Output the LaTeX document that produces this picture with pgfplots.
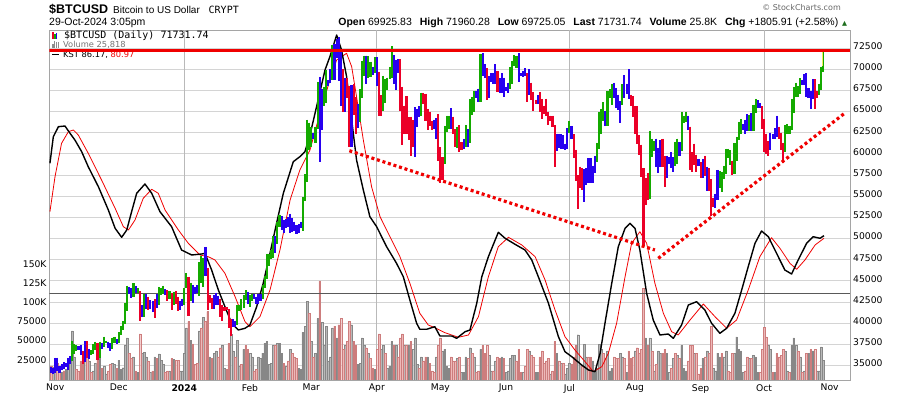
\documentclass[border=0pt]{standalone}
\usepackage{fontspec}
\setmainfont{DejaVu Sans}
\newfontfamily\arial{Liberation Sans}
\newfontfamily\mono{DejaVu Sans Mono}
\usepackage{pgfplots}
\usepackage{pgfplotstable}
\pgfplotsset{compat=1.18}
\definecolor{pgreen}{RGB}{20,170,0}
\definecolor{pred}{RGB}{235,0,40}
\definecolor{pblue}{RGB}{40,0,240}
\definecolor{pyellow}{RGB}{240,240,90}
\definecolor{vgray}{RGB}{185,185,185}
\definecolor{vgrayd}{RGB}{135,135,135}
\definecolor{vpink}{RGB}{238,185,185}
\definecolor{vpinkd}{RGB}{205,125,125}
\definecolor{gridc}{RGB}{212,212,212}
\definecolor{qgridc}{RGB}{185,185,185}
\definecolor{framec}{RGB}{165,165,165}
\definecolor{trend}{RGB}{240,0,0}
\definecolor{upgreen}{RGB}{30,110,30}
\newcommand\tickfont{\fontsize{9.2}{11}\selectfont}

% d = days from 1 Jan 2024; lo/hi in thousands of USD; c: 0 green,1 red,2 blue; v volume in thousands; w: 0 up (gray),1 down (pink)
\pgfplotstableread{
d lo hi c v w
-63 34.1 34.8 2 18 1
-62 34.0 34.7 2 17 0
-61 34.1 35.9 2 25 0
-60 34.3 35.9 2 22 1
-59 34.1 35.0 2 18 1
-58 34.5 35.2 2 10 0
-57 34.6 35.4 2 12 1
-56 34.8 35.3 2 14 0
-55 34.5 35.9 2 20 0
-54 35.2 36.1 2 22 0
-53 35.5 37.9 0 64 0
-52 36.4 37.5 0 30 0
-51 36.7 37.4 0 14 1
-50 36.8 37.3 2 12 1
-49 36.3 37.4 2 25 1
-48 35.2 36.7 1 30 1
-47 35.4 37.9 2 32 0
-46 35.9 37.9 1 33 1
-45 35.8 36.9 2 25 0
-44 36.2 36.8 0 10 1
-43 36.4 37.5 0 12 0
-42 36.8 37.8 0 22 0
-41 35.7 37.6 1 35 1
-40 35.9 37.8 0 28 0
-39 37.0 37.6 2 15 1
-38 37.2 38.4 0 18 0
-37 37.6 37.9 0 8 0
-36 37.1 37.8 2 12 1
-35 36.7 37.6 2 20 1
-34 36.9 38.3 0 22 0
-33 37.6 38.4 0 20 0
-32 37.5 38.1 2 15 1
-31 37.6 38.9 0 26 0
-30 38.6 39.7 0 14 0
-29 39.2 40.2 0 16 0
-28 39.9 42.4 0 45 0
-27 41.4 44.4 0 55 0
-26 43.4 44.3 2 35 1
-25 43.0 44.1 2 28 1
-24 43.1 44.7 0 30 0
-23 43.6 44.4 2 12 1
-22 43.6 44.1 0 10 0
-21 40.2 43.8 1 60 1
-20 40.7 42.1 2 35 0
-19 40.7 43.4 0 36 0
-18 41.7 43.4 2 30 0
-17 41.6 43.1 1 25 1
-16 41.7 42.7 2 10 0
-15 41.3 42.6 2 12 1
-14 40.6 42.8 1 30 0
-13 41.8 43.4 2 28 1
-12 42.2 44.3 0 34 0
-11 43.3 44.2 0 26 0
-10 43.4 44.4 0 20 0
-9 43.3 44.0 2 10 1
-8 42.6 43.9 1 12 1
-7 42.8 43.8 0 12 0
-6 41.6 43.6 1 28 1
-5 42.1 43.7 0 27 0
-4 42.3 43.8 1 26 1
-3 41.4 43.1 1 26 1
-2 41.6 42.6 2 12 0
-1 42.0 42.9 2 12 0
0 42.2 44.2 0 35 0
1 44.2 45.9 0 68 0
2 40.8 45.5 1 76 1
3 42.6 44.8 0 52 0
4 42.4 44.5 2 47 1
5 43.4 44.3 2 20 1
6 43.6 44.5 2 22 1
7 43.2 47.2 0 64 0
8 44.8 47.9 0 68 1
9 44.3 47.7 0 82 0
10 45.6 49.0 2 76 1
11 41.5 46.5 1 89 1
12 42.4 43.3 1 30 0
13 41.7 43.0 1 28 1
14 41.7 43.3 2 35 0
15 42.1 43.6 2 38 0
16 42.2 43.2 2 30 1
17 40.7 42.9 1 42 1
18 40.3 42.2 1 45 0
19 41.4 41.9 1 15 0
20 41.5 41.9 1 14 1
21 39.4 41.7 1 48 1
22 38.5 40.5 1 60 0
23 39.5 40.5 2 38 0
24 39.5 40.3 2 30 1
25 39.8 42.2 0 52 0
26 41.4 42.2 0 18 0
27 41.6 42.8 0 20 1
28 41.8 43.3 0 40 0
29 42.7 43.9 0 45 1
30 42.3 43.7 2 40 1
31 41.9 43.3 0 35 0
32 42.6 43.5 0 30 0
33 42.9 43.4 2 12 1
34 42.3 43.1 2 14 1
35 42.3 43.5 2 30 0
36 42.6 43.4 2 28 0
37 42.8 44.5 0 35 0
38 44.1 45.6 0 48 0
39 45.2 48.2 0 50 0
40 46.8 48.2 0 20 0
41 47.6 48.6 0 22 0
42 47.7 50.3 0 45 0
43 48.3 50.3 2 45 1
44 49.3 52.0 0 48 0
45 51.3 52.8 0 48 0
46 51.0 52.6 2 35 0
47 50.6 52.2 2 22 1
48 51.2 52.3 2 18 0
49 51.4 52.5 2 25 1
50 50.6 52.9 2 40 0
51 50.8 52.4 2 35 1
52 50.9 52.0 2 30 1
53 50.5 51.6 2 28 1
54 50.6 51.7 2 15 0
55 51.2 52.0 2 14 0
56 50.9 54.9 0 62 0
57 54.4 57.6 0 70 0
58 56.7 64.0 0 102 0
59 60.4 63.7 0 87 1
60 60.8 63.2 0 50 0
61 61.7 62.5 2 30 1
62 61.3 63.2 0 35 0
63 62.9 68.5 0 80 0
64 59.0 69.1 2 129 1
65 62.8 67.6 2 75 0
66 65.6 67.9 0 45 0
67 66.0 69.9 0 70 0
68 68.0 68.7 2 25 0
69 68.4 70.0 2 30 0
70 68.7 72.8 0 68 0
71 68.7 73.0 2 70 1
72 71.3 73.6 2 55 0
73 68.6 73.8 2 72 1
74 65.6 72.3 2 80 1
75 64.9 70.0 1 40 1
76 65.0 68.9 2 45 0
77 66.6 68.9 1 50 1
78 60.8 68.0 1 76 1
79 60.8 68.1 2 72 0
80 64.6 68.2 1 50 1
81 62.3 66.7 1 45 1
82 63.1 65.9 2 20 0
83 63.8 67.6 0 22 0
84 66.6 71.0 0 55 0
85 69.2 71.6 0 45 0
86 68.3 71.6 2 42 1
87 68.9 71.5 0 35 0
88 69.1 70.9 0 28 1
89 69.3 70.3 2 15 1
90 69.6 71.4 0 14 0
91 68.0 71.4 2 40 1
92 64.5 69.7 1 60 1
93 64.5 66.9 1 40 0
94 65.1 69.2 0 45 0
95 66.0 68.8 0 35 1
96 67.5 69.0 0 15 0
97 68.8 70.3 0 18 0
98 69.0 72.7 0 50 0
99 68.3 71.7 2 45 1
100 67.5 71.1 2 45 0
101 69.6 71.2 2 30 1
102 65.1 71.2 1 55 1
103 61.0 67.9 1 60 1
104 62.3 65.7 1 45 0
105 62.3 66.8 1 45 1
106 61.6 64.3 1 45 0
107 59.8 64.4 1 50 1
108 60.8 64.0 1 40 0
109 59.6 65.5 2 55 0
110 63.2 65.3 2 20 0
111 64.3 65.6 2 15 1
112 64.5 67.2 0 30 0
113 65.9 67.2 1 25 1
114 63.9 67.1 1 30 1
115 62.8 65.3 1 30 0
116 63.3 65.0 1 22 1
117 62.8 63.9 1 12 1
118 62.9 64.0 2 10 1
119 61.8 64.2 2 30 0
120 59.2 64.7 1 45 1
121 56.6 60.8 1 55 1
122 56.9 59.6 1 37 0
123 58.8 63.3 0 40 0
124 62.6 64.5 0 18 0
125 62.9 64.5 0 15 0
126 62.9 65.4 2 30 1
127 62.3 64.4 1 25 1
128 60.8 62.9 1 25 1
129 60.7 63.2 0 28 0
130 60.2 63.4 1 30 1
131 60.5 61.4 1 10 0
132 60.6 61.8 2 10 0
133 60.8 63.4 0 30 0
134 60.8 62.9 2 28 1
135 61.3 66.5 0 42 0
136 64.6 66.7 0 35 1
137 65.0 67.4 0 30 0
138 66.6 67.4 2 10 1
139 66.1 67.7 2 12 1
140 66.1 71.8 0 40 0
141 69.2 71.9 2 45 1
142 68.9 70.6 2 35 1
143 66.3 70.1 1 45 1
144 66.6 69.2 2 32 0
145 68.5 69.5 2 12 0
146 68.3 69.5 2 12 1
147 68.3 70.6 2 25 0
148 67.3 69.8 1 30 1
149 67.2 68.9 2 28 1
150 67.2 69.5 2 30 0
151 66.7 69.0 2 28 1
152 67.4 67.9 2 10 0
153 67.2 68.4 2 12 0
154 67.6 70.2 0 28 0
155 68.2 71.0 0 32 0
156 70.4 71.7 0 32 0
157 70.1 71.6 0 25 1
158 68.5 71.9 2 40 1
159 69.2 69.5 2 10 1
160 69.1 69.8 2 10 0
161 69.2 70.1 2 18 1
162 66.1 69.5 1 40 1
163 66.9 70.0 2 38 0
164 66.3 68.4 1 32 1
165 65.1 67.3 1 30 1
166 65.9 66.4 1 10 0
167 65.9 66.9 2 10 0
168 65.0 67.3 1 30 1
169 64.1 66.5 1 38 1
170 64.7 65.7 1 22 1
171 64.5 66.5 1 25 1
172 63.4 65.0 1 28 1
173 63.9 64.5 1 8 0
174 63.2 64.5 1 12 1
175 58.4 63.4 1 50 1
176 60.3 62.4 2 35 0
177 60.7 62.4 2 25 1
178 60.6 62.3 2 22 0
179 60.6 62.2 2 22 1
180 60.5 61.2 2 8 0
181 60.6 63.0 2 15 0
182 62.5 63.9 0 22 0
183 61.8 63.3 2 20 1
184 59.5 62.3 1 30 1
185 56.8 60.5 1 45 1
186 53.5 57.5 1 59 0
187 56.0 58.5 1 20 0
188 55.7 58.3 1 18 1
189 54.3 58.2 2 46 0
190 56.3 58.3 2 30 0
191 56.5 59.5 2 30 1
192 56.5 59.5 2 30 1
193 56.5 58.6 2 25 0
194 57.7 59.8 2 12 0
195 59.0 61.3 0 15 0
196 60.6 64.9 0 46 0
197 62.4 65.3 0 40 0
198 63.9 66.1 0 35 1
199 63.3 65.1 2 28 1
200 63.3 67.4 0 38 0
201 66.6 67.6 0 12 0
202 65.8 68.3 0 15 0
203 66.6 68.4 2 30 1
204 65.4 67.8 2 28 1
205 65.2 67.0 2 28 1
206 63.6 66.2 2 35 0
207 65.8 68.2 0 30 0
208 66.6 69.3 2 28 1
209 67.1 68.3 2 10 0
210 66.5 70.0 2 38 1
211 65.6 67.0 1 28 1
212 64.4 66.8 1 30 1
213 62.4 65.6 1 38 0
214 61.2 65.6 1 42 1
215 59.9 62.2 1 35 1
216 57.3 61.1 1 40 1
217 49.1 58.3 1 119 1
218 53.9 57.1 1 55 0
219 54.6 57.7 1 45 1
220 54.7 62.7 0 55 0
221 59.6 61.8 0 38 1
222 60.3 61.5 0 12 0
223 58.5 61.8 2 20 1
224 57.7 60.7 2 38 0
225 58.5 61.6 2 35 0
226 58.5 61.8 1 35 1
227 56.1 59.8 1 40 1
228 57.1 59.8 2 35 0
229 58.8 59.6 2 10 0
230 58.3 60.2 2 15 1
231 57.8 59.6 2 28 0
232 58.6 61.4 0 35 1
233 58.8 61.8 0 32 0
234 59.8 61.4 2 28 1
235 60.3 64.9 0 45 0
236 63.6 64.5 0 15 0
237 63.8 65.0 0 12 0
238 62.8 64.5 2 25 1
239 58.1 63.2 1 45 1
240 57.9 60.2 1 45 1
241 58.7 61.2 1 35 0
242 57.8 59.9 1 35 1
243 58.6 59.4 2 8 1
244 57.2 59.0 1 15 1
245 57.1 59.4 2 28 0
246 57.4 59.8 1 30 1
247 55.6 58.5 2 38 0
248 55.6 58.3 1 35 1
249 52.6 57.0 1 70 1
250 53.7 54.8 1 15 0
251 53.6 55.3 2 12 0
252 54.6 58.1 2 35 0
253 56.0 58.0 0 30 0
254 55.5 57.9 0 35 1
255 57.0 58.6 0 30 0
256 57.6 60.6 0 38 0
257 59.5 60.6 0 12 1
258 58.7 60.4 0 10 1
259 57.5 59.2 1 35 1
260 57.6 61.3 0 35 0
261 59.2 62.0 0 56 0
262 61.6 63.8 0 40 0
263 62.4 64.1 0 38 0
264 62.8 63.5 2 10 0
265 62.4 64.0 2 12 1
266 62.7 64.7 2 30 1
267 62.7 64.6 0 28 0
268 62.7 64.8 2 28 1
269 62.7 65.8 0 32 0
270 64.8 66.5 0 30 0
271 65.4 66.3 2 10 0
272 65.4 66.0 2 10 1
273 62.9 65.6 1 40 1
274 60.2 64.1 1 69 1
275 60.0 62.4 1 56 1
276 59.8 61.5 1 45 0
277 60.5 62.5 2 40 0
278 61.8 62.4 2 10 1
279 61.8 63.0 2 10 0
280 62.0 64.5 2 35 1
281 61.8 63.2 1 30 1
282 60.4 62.5 1 32 1
283 58.9 61.3 1 40 1
284 60.2 63.4 0 38 0
285 62.4 63.5 0 12 0
286 62.4 63.3 0 10 1
287 62.8 66.5 0 45 0
288 64.8 67.9 0 55 0
289 66.7 68.4 0 45 0
290 66.7 68.0 0 38 1
291 67.1 68.9 0 30 0
292 68.1 68.7 2 10 1
293 68.1 69.4 2 12 0
294 66.7 69.5 2 35 1
295 66.6 67.8 2 35 0
296 65.3 67.4 2 40 1
297 66.5 68.8 2 38 0
298 65.3 68.8 1 40 1
299 66.6 67.4 1 12 0
300 66.9 68.3 0 12 0
301 67.5 70.3 0 43 0
302 69.7 72.0 0 25.8 0
}\btc

% KST (black) and its signal (red), as heights in the panel (0 = bottom, 350 = top)
\pgfplotstableread{
d h
-63.5 216.7
-61.9 243.3
-59.5 253.3
-56.4 254
-54 246.7
-51.7 240
-48.5 228.3
-45.4 213.3
-40.6 193.3
-35.9 170
-32.7 151.7
-29.6 142.7
-27.2 150
-24.9 168.3
-22.5 186.7
-18.6 196
-15.4 186.7
-11.5 168.3
-6 153.3
-1.3 130
3.5 125
8.2 126
9.8 126.7
12.9 110
16.1 90
19.2 73.3
22.4 56.7
25.5 50
28.7 51.7
31 55
34.2 73.3
37.3 96.7
40.5 126.7
43.6 156.7
46.8 186.7
51.5 218.3
54.6 223.3
57 228.3
59.4 245
62.5 273.3
66.5 310
68.8 323.3
72 345
74.3 330
76.7 303.3
79.1 260
81.4 220
84.6 190
87.7 163.3
90.9 153.3
95.6 133.3
100.3 116.7
103.5 103.3
106.6 80
109.8 56.7
111.3 50.7
114.5 50.7
118.4 53.3
120.8 44
126.4 44
128.7 41.7
132.7 48.3
135 50
138.2 76.7
140.6 103.3
143.7 123.3
148.4 147.7
151.6 141.7
156.3 135.7
161 130
164.2 120
167.3 103.3
172.1 76.7
176.8 43.3
179.9 28.3
183.1 23.3
187.8 15
191 10
194.1 8.3
196.5 26.7
198.8 56.7
202 96.7
205.1 133.3
208.3 151.7
210.6 156.7
213 151.7
215.3 130
218.5 86.7
221.6 60
224.8 45
228.7 46
231.1 41.7
235 55
238.2 75
242.1 78.3
246 70
249.2 56.7
253.1 46.7
256.3 51.7
260.2 66.7
263.4 90
266.5 113.3
269.7 136.7
272.8 149
276 143.3
279.9 126.7
283.8 110
287 106
290.1 120
294.1 136.7
297.2 143.3
300.4 141.7
302.3 144.3
}\kstb
\pgfplotstableread{
d h
-63.5 168.3
-61.1 203.3
-58 236.7
-54.8 248.3
-52.4 250
-50.1 245
-45.4 226.7
-39.1 200
-32.7 171.7
-28.8 153.3
-26.4 150
-23.3 160
-19.4 181.7
-15.4 190.7
-12.3 186.7
-9.1 170
-2.8 150
1.9 136.7
7.4 125
11.3 123.3
14.5 120
19.2 106.7
24 83.3
28.7 58.3
31 53.3
35.75 63.3
40.5 90
45.2 130
50 180
54.6 210
59.4 230
64.1 266.7
68.8 300
72 320
76.7 326.7
79.1 313.3
81.4 283.3
84.6 240
88.5 193.3
92.5 163.3
97.2 143.3
101.9 123.3
106.6 96.7
111.3 66.7
115.3 55
118.4 52.3
123.2 47.3
129.5 42.7
134.3 45
139 63.3
143.7 103.3
148.4 133.3
153.2 142.7
159.5 135
165.8 123.3
170.5 100
175.2 70
179.9 43.3
184.6 30
189.4 18.3
193.3 8.3
197.3 13.3
200.4 26.7
204.3 56.7
208.3 103.3
211.4 136.7
215.3 148.3
218.5 136.7
222.4 96.7
226.4 66.7
230.3 48.3
233.4 45
239 60
245.3 76
250.8 63.3
256.3 51.7
261 60
266.5 90
272 123.3
277.5 142.3
281.5 131.7
286.2 116.7
289.4 110.7
293.3 120
298.1 135
302.3 141.7
}\ksts

\pgfplotsset{base/.style={scale only axis, width=800.7pt, height=350pt,
  at={(49.3pt,16pt)}, anchor=south west, xmin=-63.8, xmax=314.6},
  pbar/.style={only marks, mark size=0pt, mark options={draw=none, fill=none},
  restrict expr to domain={\thisrow{c}}{#1:#1}}}

\begin{document}
\begin{tikzpicture}
\useasboundingbox (0,0) rectangle (900pt,396pt);

% frame, grid and ticks (price scale on the right)
\begin{axis}[base, ymin=33.289, ymax=74.626,
  axis line style={draw=framec, line width=0.8pt},
  ytick={35,37.5,40,42.5,45,47.5,50,52.5,55,57.5,60,62.5,65,67.5,70,72.5},
  yticklabels={35000,37500,40000,42500,45000,47500,50000,52500,55000,57500,60000,62500,65000,67500,70000,72500},
  ymajorgrids, major grid style={draw=gridc, line width=0.8pt},
  ytick pos=right, yticklabel pos=right,
  yticklabel style={anchor=west, inner sep=0pt, xshift=3pt, yshift=2pt, font=\tickfont},
  xtick={-61,-31,0,31,60,91,121,152,182,213,244,274,305},
  xticklabels={Nov,Dec,\textbf{2024},Feb,Mar,Apr,May,Jun,Jul,Aug,Sep,Oct,Nov},
  xtick pos=bottom,
  xticklabel style={anchor=north, inner sep=0pt, yshift=-4pt, font=\tickfont},
  major tick length=0pt,
  extra x ticks={0,91,182,274}, extra x tick labels={},
  extra x tick style={grid=major, major grid style={draw=qgridc, line width=0.8pt}},
]
\end{axis}

% volume (scale on the left)
\begin{axis}[base, ymin=0, ymax=455.7,
  axis x line=none, axis y line=left, y axis line style={draw=none,-},
  ytick={25,50,75,100,125,150},
  yticklabels={25000,50000,75000,100K,125K,150K},
  major tick length=0pt,
  yticklabel style={anchor=east, inner sep=0pt, xshift=-2.6pt, yshift=1pt, font=\tickfont},
]
\addplot[ybar, bar width=0.8, bar shift=0pt, fill=vgray, draw=vgrayd, line width=0.35pt,
  restrict expr to domain={\thisrow{w}}{0:0}] table[x=d, y=v] {\btc};
\addplot[ybar, bar width=0.8, bar shift=0pt, fill=vpink, draw=vpinkd, line width=0.35pt,
  restrict expr to domain={\thisrow{w}}{1:1}] table[x=d, y=v] {\btc};
\end{axis}

% KST panel (no scale shown)
\begin{axis}[base, hide axis, ymin=0, ymax=350]
\addplot[draw=black!65, line width=0.9pt] coordinates {(-63.8,87) (314.6,87)};
\addplot[trend, line width=0.8pt, line join=round] table[x=d, y=h] {\ksts};
\addplot[black, line width=1.4pt, line join=round] table[x=d, y=h] {\kstb};
\end{axis}

% header
\node[anchor=base west, inner sep=0pt] at (49pt,382.5pt) {\arial\bfseries\fontsize{12.5}{14}\selectfont \$BTCUSD};
\node[anchor=base west, inner sep=0pt] at (113pt,382.5pt) {\arial\fontsize{10}{12}\selectfont Bitcoin to US Dollar};
\node[anchor=base west, inner sep=0pt] at (208.5pt,382.5pt) {\mono\fontsize{10}{12}\selectfont CRYPT};
\node[anchor=base west, inner sep=0pt] at (49pt,370pt) {\arial\fontsize{10.5}{12}\selectfont 29-Oct-2024 3:05pm};
\node[anchor=base east, inner sep=0pt] at (838.5pt,370pt) {\arial\fontsize{10.5}{12}\selectfont \textbf{Open} 69925.83\hspace{5pt} \textbf{High} 71960.28\hspace{5pt} \textbf{Low} 69725.05\hspace{5pt} \textbf{Last} 71731.74\hspace{5pt} \textbf{Volume} 25.8K\hspace{5pt} \textbf{Chg} +1805.91 (+2.58\%)};
\node[anchor=base west, inner sep=0pt] at (842pt,370.5pt) {\fontsize{6.5}{8}\selectfont\color{upgreen}▲};
\node[anchor=base east, inner sep=0pt] at (841pt,385.5pt) {\fontsize{8}{9}\selectfont\color{black!60}© StockCharts.com};

% legend inside the panel
\node[anchor=base west, inner sep=0pt] at (52pt,357pt) {\color{pred}\rule{1.3pt}{7pt}\hspace{0.8pt}\color{pgreen}\rule{1.3pt}{5pt}\hspace{0.5pt}\color{pblue}\rule{1.3pt}{6pt}};
\node[anchor=base west, inner sep=0pt] at (64pt,357pt) {\mono\fontsize{10}{12}\selectfont \$BTCUSD (Daily) 71731.74};
\node[anchor=base west, inner sep=0pt] at (52pt,348pt) {\color{black!45}\rule{1.3pt}{4pt}\hspace{0.5pt}\rule{1.3pt}{7pt}\hspace{0.5pt}\rule{1.3pt}{5.5pt}\hspace{0.5pt}\rule{1.3pt}{6pt}};
\node[anchor=base west, inner sep=0pt] at (63pt,348pt) {\fontsize{8.3}{10}\selectfont\color{black!55}Volume 25,818};
\node[anchor=base west, inner sep=0pt] at (52pt,340.5pt) {\rule{7pt}{1.8pt}};
\node[anchor=base west, inner sep=0pt] at (63pt,338pt) {\fontsize{8.3}{10}\selectfont KST 86.17, \color{trend}80.97};

% price bars and trend lines
\begin{axis}[base, hide axis, ymin=33.289, ymax=74.626]
\addplot[pbar=0, error bars/.cd, y dir=minus, y explicit, error mark=none,
  error bar style={line width=2.1pt, color=pgreen}]
  table[x=d, y=hi, y error minus expr={\thisrow{hi}-\thisrow{lo}}] {\btc};
\addplot[pbar=1, error bars/.cd, y dir=minus, y explicit, error mark=none,
  error bar style={line width=2.1pt, color=pred}]
  table[x=d, y=hi, y error minus expr={\thisrow{hi}-\thisrow{lo}}] {\btc};
\addplot[pbar=2, error bars/.cd, y dir=minus, y explicit, error mark=none,
  error bar style={line width=2.1pt, color=pblue}]
  table[x=d, y=hi, y error minus expr={\thisrow{hi}-\thisrow{lo}}] {\btc};
% today's (partial) range highlighted in yellow
\addplot[only marks, mark size=0pt, mark options={draw=none, fill=none},
  error bars/.cd, y dir=minus, y explicit, error mark=none,
  error bar style={line width=1.2pt, color=pyellow}]
  coordinates {(301.55,72.0) -= (0,1.6)};
\addplot[trend, line width=3pt] coordinates {(-63.8,72.22) (314.6,72.22)};
\addplot[trend, line width=3.2pt, dash pattern=on 3pt off 2.8pt] coordinates {(78,60.37) (222.4,48.64)};
\addplot[trend, line width=3.2pt, dash pattern=on 3pt off 2.8pt] coordinates {(224,47.66) (312.2,64.82)};
\end{axis}
\end{tikzpicture}
\end{document}
